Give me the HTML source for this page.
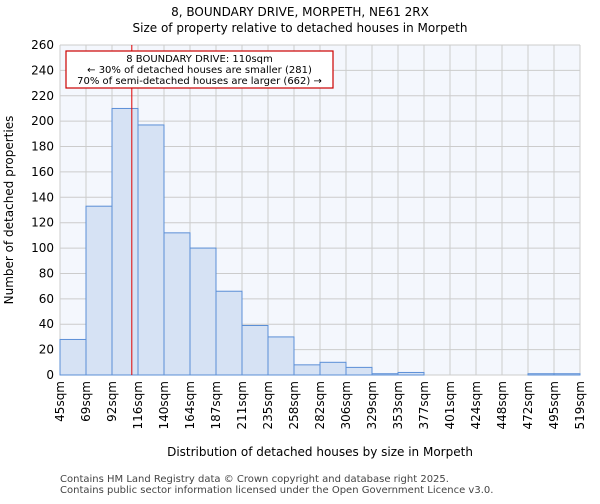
<!DOCTYPE html>
<html><head><meta charset="utf-8"><style>
body{margin:0;background:#fff;font-family:"DejaVu Sans","Liberation Sans",sans-serif;}
</style></head><body>
<svg id="c" width="600" height="500" xmlns="http://www.w3.org/2000/svg" font-family="DejaVu Sans, Liberation Sans, sans-serif">
<text x="300" y="16" font-size="12" text-anchor="middle">8, BOUNDARY DRIVE, MORPETH, NE61 2RX</text>
<text x="300" y="32" font-size="12" text-anchor="middle">Size of property relative to detached houses in Morpeth</text>
<rect x="60" y="45" width="520" height="330" fill="#f4f7fd"/>
<g id="grid"></g><g id="bars"></g><g id="axes"></g>
<text x="320" y="456" font-size="12" text-anchor="middle">Distribution of detached houses by size in Morpeth</text>
<text transform="translate(13,210) rotate(-90)" font-size="12" text-anchor="middle">Number of detached properties</text>
<g id="annot"></g>
<text x="60" y="482" font-size="10" fill="#444">Contains HM Land Registry data © Crown copyright and database right 2025.</text>
<text x="60" y="493" font-size="10" fill="#444">Contains public sector information licensed under the Open Government Licence v3.0.</text>
</svg>
<script>
const categories=["45sqm","69sqm","92sqm","116sqm","140sqm","164sqm","187sqm","211sqm","235sqm","258sqm","282sqm","306sqm","329sqm","353sqm","377sqm","401sqm","424sqm","448sqm","472sqm","495sqm","519sqm"];
const values=[28,133,210,197,112,100,66,39,30,8,10,6,1,2,0,0,0,0,1,1];
const yTicks=[0,20,40,60,80,100,120,140,160,180,200,220,240,260];
const binStart=45, binWidthSqm=23.7, markerSqm=110;
const NS="http://www.w3.org/2000/svg";
const x0=60,x1=580,y0=375,y1=45,yMax=260;
const bw=(x1-x0)/values.length;
const X=i=>x0+i*bw;
const Y=v=>y0-(v/yMax)*(y0-y1);
const XS=s=>x0+(s-binStart)/binWidthSqm*bw;
function mk(t,a,p){const e=document.createElementNS(NS,t);for(const k in a)e.setAttribute(k,a[k]);p.appendChild(e);return e;}
const g=document.getElementById('grid'),b=document.getElementById('bars'),ax=document.getElementById('axes'),an=document.getElementById('annot');
yTicks.forEach(t=>{
 const l=mk('line',{x1:x0,x2:x1,y1:Y(t),y2:Y(t),stroke:'#ccc','stroke-width':1},g);
 
 
 const tx=mk('text',{x:x0-6,y:Y(t)+4,'font-size':12,'text-anchor':'end'},ax);tx.textContent=t;
 
 
});
categories.forEach((c,i)=>{
 const l=mk('line',{x1:X(i),x2:X(i),y1:y1,y2:y0,stroke:'#ccc','stroke-width':1},g);
 
 
 const tx=mk('text',{transform:`translate(${X(i)+4},${y0+6}) rotate(-90)`,'font-size':12,'text-anchor':'end'},ax);tx.textContent=c;
 
 
});
values.forEach((v,i)=>{
 const r=mk('rect',{x:X(i),y:Y(v),width:bw,height:y0-Y(v),fill:'#d6e2f4',stroke:'#5b8fd6','stroke-width':1},b);
 
 
});
const ml=mk('line',{x1:XS(markerSqm)+0.5,x2:XS(markerSqm)+0.5,y1:y1,y2:y0,stroke:'#e00000','stroke-width':1},an);


const bx=mk('rect',{x:66,y:51,width:267,height:37,fill:'#fff',stroke:'#cc0000','stroke-width':1.2},an);


["8 BOUNDARY DRIVE: 110sqm","← 30% of detached houses are smaller (281)","70% of semi-detached houses are larger (662) →"].forEach((s,i)=>{
 const t=mk('text',{x:199.5,y:62+i*11,'font-size':10,'text-anchor':'middle'},an);t.textContent=s;
 
 
});
</script></body></html>
